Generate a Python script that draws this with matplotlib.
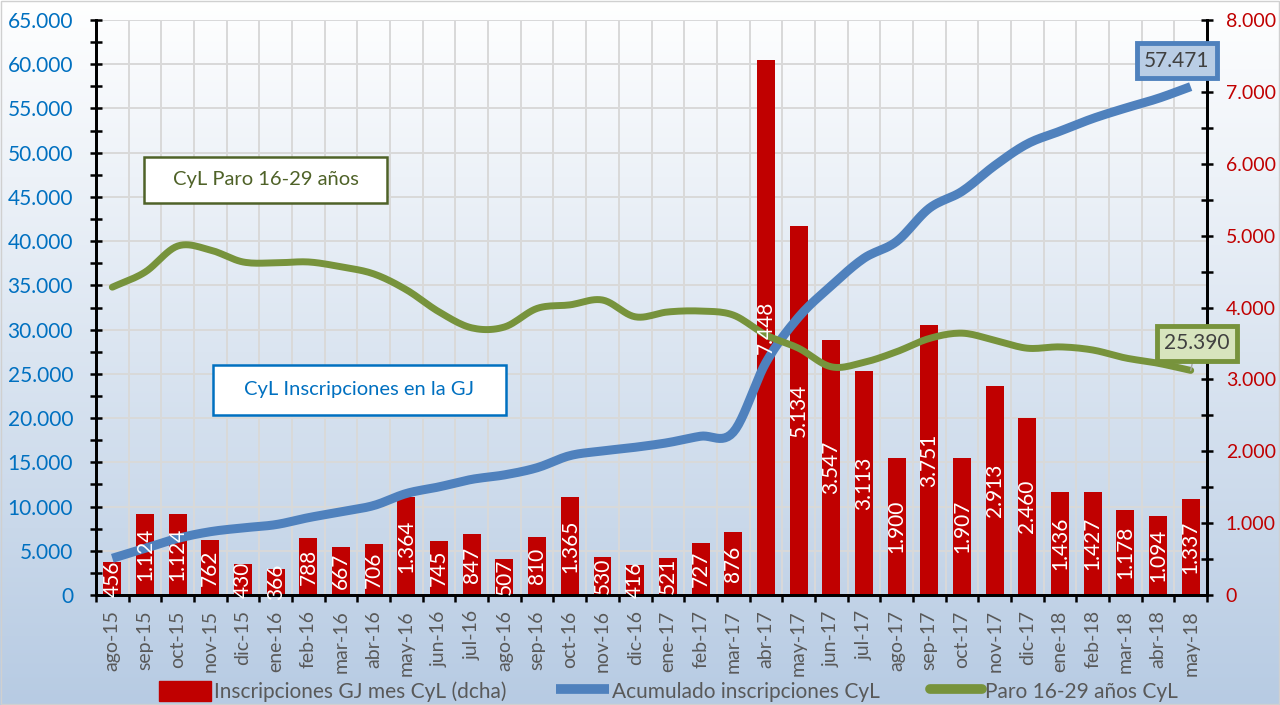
import numpy as np
import matplotlib
matplotlib.use("Agg")
import matplotlib.pyplot as plt
from matplotlib.patches import Rectangle, Patch
from matplotlib.lines import Line2D
from matplotlib.ticker import FuncFormatter, MultipleLocator

plt.rcParams['font.family'] = ['Lato', 'DejaVu Sans']

# months (x categories)
meses = ['ago-15', 'sep-15', 'oct-15', 'nov-15', 'dic-15', 'ene-16', 'feb-16', 'mar-16',
         'abr-16', 'may-16', 'jun-16', 'jul-16', 'ago-16', 'sep-16', 'oct-16', 'nov-16',
         'dic-16', 'ene-17', 'feb-17', 'mar-17', 'abr-17', 'may-17', 'jun-17', 'jul-17',
         'ago-17', 'sep-17', 'oct-17', 'nov-17', 'dic-17', 'ene-18', 'feb-18', 'mar-18',
         'abr-18', 'may-18']

# monthly registrations (right axis, bars)
inscripciones_mes = [456, 1124, 1124, 762, 430, 366, 788, 667, 706, 1364,
                     745, 847, 507, 810, 1365, 530, 416, 521, 727, 876,
                     7448, 5134, 3547, 3113, 1900, 3751, 1907, 2913, 2460, 1436,
                     1427, 1178, 1094, 1337]

# accumulated registrations (left axis, blue line)
acumulado = [4151, 5275, 6399, 7161, 7591, 7957, 8745, 9412, 10118, 11482,
             12227, 13074, 13581, 14391, 15756, 16286, 16702, 17223, 17950, 18400,
             26274, 31408, 34955, 38068, 39968, 43719, 45626, 48539, 50999, 52435,
             53862, 55040, 56134, 57471]

# youth unemployment 16-29 (left axis, green line)
paro = [34800, 36500, 39450, 39000, 37650, 37550, 37650, 37100, 36300, 34500,
        32000, 30200, 30300, 32400, 32800, 33350, 31450, 32000, 32100, 31650,
        29400, 27900, 25800, 26300, 27500, 29000, 29600, 28800, 27900, 28050,
        27700, 26800, 26200, 25390]

RED = '#c00000'
BLUE = '#4f81bd'
GREEN = '#77933c'
GRAY = '#595959'


def miles(v, pos=None):
    return f"{v:,.0f}".replace(',', '.')


def smooth(x, y, n=12):
    # Catmull-Rom style smoothing through the points (like Excel's smoothed line)
    x = np.asarray(x, float)
    y = np.asarray(y, float)
    px = np.concatenate([[2 * x[0] - x[1]], x, [2 * x[-1] - x[-2]]])
    py = np.concatenate([[2 * y[0] - y[1]], y, [2 * y[-1] - y[-2]]])
    xs, ys = [], []
    for i in range(1, len(px) - 2):
        t = np.linspace(0, 1, n, endpoint=False)
        for arr, out in ((px, xs), (py, ys)):
            p0, p1, p2, p3 = arr[i - 1], arr[i], arr[i + 1], arr[i + 2]
            out.extend(0.5 * ((2 * p1) + (-p0 + p2) * t + (2 * p0 - 5 * p1 + 4 * p2 - p3) * t ** 2
                              + (-p0 + 3 * p1 - 3 * p2 + p3) * t ** 3))
    xs.append(x[-1])
    ys.append(y[-1])
    return np.array(xs), np.array(ys)


fig = plt.figure(figsize=(12.8, 7.05), dpi=100)

# background gradient
bg = fig.add_axes([0, 0, 1, 1], zorder=-5)
grad = np.linspace(0, 1, 256)[:, None]
c0 = np.array([1.0, 1.0, 1.0])
c1 = np.array([0xb7, 0xcb, 0xe3]) / 255
img = c0 + (c1 - c0) * grad[:, :, None]
bg.imshow(np.repeat(img, 2, axis=1), aspect='auto', extent=[0, 1, 0, 1])
bg.set_axis_off()
fig.patches.append(Rectangle((0.001, 0.001), 0.998, 0.998, transform=fig.transFigure,
                             fill=False, edgecolor='#d0d0d0', linewidth=1))

ax = fig.add_axes([0.075, 0.156, 0.868, 0.8156])
ax2 = ax.twinx()
ax.set_zorder(ax2.get_zorder() + 1)
ax.patch.set_visible(False)

x = np.arange(len(meses))

# grid (drawn on the lower axes so bars cover it)
for gy in np.arange(5000, 65001, 5000):
    ax2.axhline(gy * 8000 / 65000, color='#d9d9d9', linewidth=1.4, zorder=0)
for gx in np.arange(0.5, len(meses) - 0.5, 1):
    ax2.axvline(gx, color='#d9d9d9', linewidth=1.4, zorder=0)

# bars on right axis
ax2.bar(x, inscripciones_mes, width=0.55, color=RED, zorder=2)

ax2.set_ylim(0, 8000)
ax2.yaxis.set_major_locator(MultipleLocator(1000))
ax2.yaxis.set_minor_locator(MultipleLocator(500))
ax2.yaxis.set_major_formatter(FuncFormatter(miles))
ax2.tick_params(axis='y', which='both', direction='inout', colors='black', width=1.8,
                labelcolor=RED, labelsize=14, pad=9)
ax2.tick_params(axis='y', which='major', length=9)
ax2.tick_params(axis='y', which='minor', length=9)

# lines on left axis
sx, sy = smooth(x, acumulado)
ax.plot(sx, sy, color=BLUE, linewidth=6.5, solid_capstyle='butt', zorder=4)
sx, sy = smooth(x, paro)
ax.plot(sx, sy, color=GREEN, linewidth=5, solid_capstyle='round', zorder=4)

# bar labels, centred in each bar, drawn above the lines
for xi, v in zip(x, inscripciones_mes):
    ax.text(xi, v / 2, miles(v), transform=ax2.transData, rotation=90,
            ha='center', va='center', color='white', fontsize=15, zorder=5)

ax.set_xlim(-0.5, len(meses) - 0.5)
ax.set_ylim(0, 65000)
ax.yaxis.set_major_locator(MultipleLocator(5000))
ax.yaxis.set_minor_locator(MultipleLocator(2500))
ax.yaxis.set_major_formatter(FuncFormatter(miles))
ax.tick_params(axis='y', which='both', direction='inout', length=9, width=1.8,
               labelcolor='#0070c0', labelsize=15, pad=12)

ax.set_xticks(x)
ax.set_xticklabels(meses, rotation=90, color=GRAY, fontsize=14)
ax.set_xticks(np.arange(-0.5, len(meses), 1), minor=True)
ax.tick_params(axis='x', which='major', length=0, pad=11)
ax.tick_params(axis='x', which='minor', direction='out', length=5, width=1.8)

for a in (ax, ax2):
    a.spines['top'].set_visible(False)
    for s in ('left', 'right', 'bottom'):
        a.spines[s].set_linewidth(2)
        a.spines[s].set_color('black')

# end-value labels
ax.annotate(miles(acumulado[-1]), (x[-1], acumulado[-1]), xytext=(-14, 26),
            textcoords='offset pixels', ha='center', va='center', fontsize=15, color='#404040',
            bbox=dict(boxstyle='square,pad=0.35', facecolor='#b9cde5', edgecolor=BLUE, linewidth=3.5),
            zorder=6)
ax.annotate(miles(paro[-1]), (x[-1], paro[-1]), xytext=(6, 27),
            textcoords='offset pixels', ha='center', va='center', fontsize=15, color='#404040',
            bbox=dict(boxstyle='square,pad=0.35', facecolor='#d7e4bd', edgecolor=GREEN, linewidth=3.5),
            arrowprops=dict(arrowstyle='-', color='#a6a6a6', linewidth=1, shrinkA=0, shrinkB=0),
            zorder=6)

# text boxes
def caja(x0, y0, w, h, texto, color_borde, color_texto):
    fig.patches.append(Rectangle((x0 / 1280, 1 - (y0 + h) / 705), w / 1280, h / 705,
                                 transform=fig.transFigure, facecolor='white',
                                 edgecolor=color_borde, linewidth=1.8, zorder=8))
    fig.text((x0 + w / 2) / 1280, 1 - (y0 + h / 2) / 705, texto, ha='center', va='center',
             color=color_texto, fontsize=14.5, zorder=9)

caja(144, 157, 243, 46, 'CyL Paro 16-29 años', '#4f6228', '#4f6228')
caja(213, 365, 293, 50, 'CyL Inscripciones en la GJ', '#0070c0', '#0070c0')

# legend
handles = [Patch(facecolor=RED, edgecolor=RED),
           Line2D([], [], color=BLUE, linewidth=7, solid_capstyle='butt'),
           Line2D([], [], color=GREEN, linewidth=7, solid_capstyle='round')]
labels = ['Inscripciones GJ mes CyL (dcha)', 'Acumulado inscripciones CyL', 'Paro 16-29 años CyL']
fig.legend(handles, labels, loc='lower center', bbox_to_anchor=(0.522, -0.022), ncol=3,
           frameon=False, fontsize=15, labelcolor=GRAY, handlelength=2.5, handleheight=1.1,
           handletextpad=0.15, columnspacing=2.4)

fig.savefig('out.png', dpi=100)
